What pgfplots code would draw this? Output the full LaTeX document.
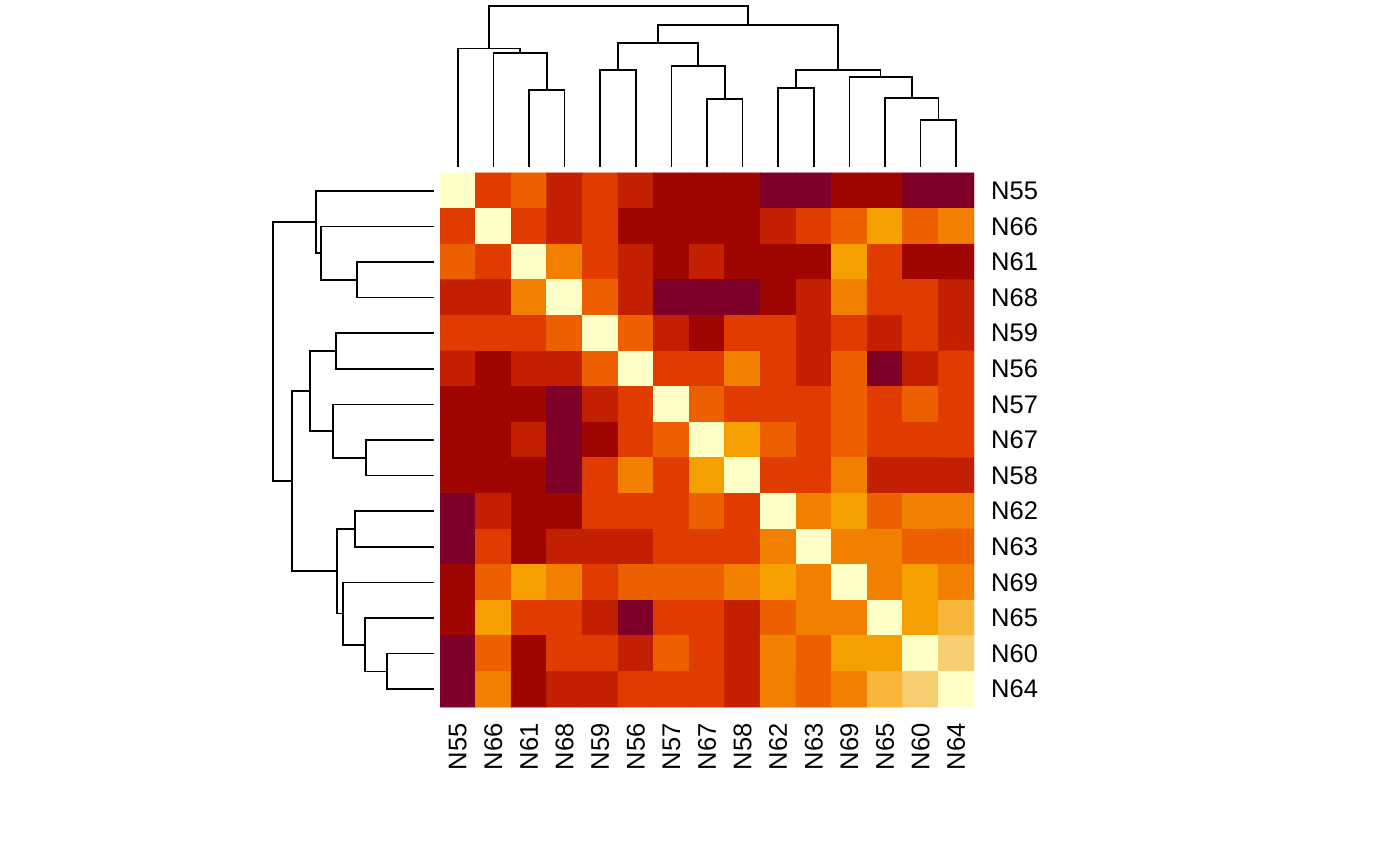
\documentclass[border=0pt]{standalone}
\usepackage{fontspec}
\setmainfont{Liberation Sans}
\usepackage{pgfplots}
\pgfplotsset{compat=1.18}
\tikzset{dend/.style={black, line width=0.85pt, mark=none}}
\begin{document}
\begin{tikzpicture}
\useasboundingbox (0,0) rectangle (700pt,433pt);
% heatmap
\begin{axis}[at={(220pt,79.5pt)}, anchor=south west, scale only axis,
  width=267pt, height=267pt,
  xmin=-0.5, xmax=14.5, ymin=-0.5, ymax=14.5, y dir=reverse, enlargelimits=false,
  axis line style={draw=none}, major tick length=0pt, tick style={draw=none},
  xtick={0,...,14}, ytick={0,...,14},
  xticklabels={N55,N66,N61,N68,N59,N56,N57,N67,N58,N62,N63,N69,N65,N60,N64},
  yticklabels={N55,N66,N61,N68,N59,N56,N57,N67,N58,N62,N63,N69,N65,N60,N64},
  yticklabel pos=right,
  xticklabel style={rotate=90, anchor=east, inner sep=0pt},
  yticklabel style={anchor=west, inner sep=0pt},
  xticklabel shift=8pt, yticklabel shift=8.4pt,
  tick label style={font=\fontsize{12.75}{15}\selectfont},
  colormap={rheat}{rgb255=(126,0,40) rgb255=(160,6,0) rgb255=(194,32,0) rgb255=(224,60,0) rgb255=(236,96,0) rgb255=(242,128,0) rgb255=(245,160,0) rgb255=(247,183,59) rgb255=(246,207,115) rgb255=(255,255,200)},
  colormap access=direct]
\addplot[matrix plot*, mesh/cols=15, point meta=explicit] table[row sep=\\, meta=c] {
x y c\\
0 0 9\\ 1 0 3\\ 2 0 4\\ 3 0 2\\ 4 0 3\\ 5 0 2\\ 6 0 1\\ 7 0 1\\ 8 0 1\\ 9 0 0\\ 10 0 0\\ 11 0 1\\ 12 0 1\\ 13 0 0\\ 14 0 0\\
0 1 3\\ 1 1 9\\ 2 1 3\\ 3 1 2\\ 4 1 3\\ 5 1 1\\ 6 1 1\\ 7 1 1\\ 8 1 1\\ 9 1 2\\ 10 1 3\\ 11 1 4\\ 12 1 6\\ 13 1 4\\ 14 1 5\\
0 2 4\\ 1 2 3\\ 2 2 9\\ 3 2 5\\ 4 2 3\\ 5 2 2\\ 6 2 1\\ 7 2 2\\ 8 2 1\\ 9 2 1\\ 10 2 1\\ 11 2 6\\ 12 2 3\\ 13 2 1\\ 14 2 1\\
0 3 2\\ 1 3 2\\ 2 3 5\\ 3 3 9\\ 4 3 4\\ 5 3 2\\ 6 3 0\\ 7 3 0\\ 8 3 0\\ 9 3 1\\ 10 3 2\\ 11 3 5\\ 12 3 3\\ 13 3 3\\ 14 3 2\\
0 4 3\\ 1 4 3\\ 2 4 3\\ 3 4 4\\ 4 4 9\\ 5 4 4\\ 6 4 2\\ 7 4 1\\ 8 4 3\\ 9 4 3\\ 10 4 2\\ 11 4 3\\ 12 4 2\\ 13 4 3\\ 14 4 2\\
0 5 2\\ 1 5 1\\ 2 5 2\\ 3 5 2\\ 4 5 4\\ 5 5 9\\ 6 5 3\\ 7 5 3\\ 8 5 5\\ 9 5 3\\ 10 5 2\\ 11 5 4\\ 12 5 0\\ 13 5 2\\ 14 5 3\\
0 6 1\\ 1 6 1\\ 2 6 1\\ 3 6 0\\ 4 6 2\\ 5 6 3\\ 6 6 9\\ 7 6 4\\ 8 6 3\\ 9 6 3\\ 10 6 3\\ 11 6 4\\ 12 6 3\\ 13 6 4\\ 14 6 3\\
0 7 1\\ 1 7 1\\ 2 7 2\\ 3 7 0\\ 4 7 1\\ 5 7 3\\ 6 7 4\\ 7 7 9\\ 8 7 6\\ 9 7 4\\ 10 7 3\\ 11 7 4\\ 12 7 3\\ 13 7 3\\ 14 7 3\\
0 8 1\\ 1 8 1\\ 2 8 1\\ 3 8 0\\ 4 8 3\\ 5 8 5\\ 6 8 3\\ 7 8 6\\ 8 8 9\\ 9 8 3\\ 10 8 3\\ 11 8 5\\ 12 8 2\\ 13 8 2\\ 14 8 2\\
0 9 0\\ 1 9 2\\ 2 9 1\\ 3 9 1\\ 4 9 3\\ 5 9 3\\ 6 9 3\\ 7 9 4\\ 8 9 3\\ 9 9 9\\ 10 9 5\\ 11 9 6\\ 12 9 4\\ 13 9 5\\ 14 9 5\\
0 10 0\\ 1 10 3\\ 2 10 1\\ 3 10 2\\ 4 10 2\\ 5 10 2\\ 6 10 3\\ 7 10 3\\ 8 10 3\\ 9 10 5\\ 10 10 9\\ 11 10 5\\ 12 10 5\\ 13 10 4\\ 14 10 4\\
0 11 1\\ 1 11 4\\ 2 11 6\\ 3 11 5\\ 4 11 3\\ 5 11 4\\ 6 11 4\\ 7 11 4\\ 8 11 5\\ 9 11 6\\ 10 11 5\\ 11 11 9\\ 12 11 5\\ 13 11 6\\ 14 11 5\\
0 12 1\\ 1 12 6\\ 2 12 3\\ 3 12 3\\ 4 12 2\\ 5 12 0\\ 6 12 3\\ 7 12 3\\ 8 12 2\\ 9 12 4\\ 10 12 5\\ 11 12 5\\ 12 12 9\\ 13 12 6\\ 14 12 7\\
0 13 0\\ 1 13 4\\ 2 13 1\\ 3 13 3\\ 4 13 3\\ 5 13 2\\ 6 13 4\\ 7 13 3\\ 8 13 2\\ 9 13 5\\ 10 13 4\\ 11 13 6\\ 12 13 6\\ 13 13 9\\ 14 13 8\\
0 14 0\\ 1 14 5\\ 2 14 1\\ 3 14 2\\ 4 14 2\\ 5 14 3\\ 6 14 3\\ 7 14 3\\ 8 14 2\\ 9 14 5\\ 10 14 4\\ 11 14 5\\ 12 14 7\\ 13 14 8\\ 14 14 9\\
};
\end{axis}
% column dendrogram
\begin{axis}[at={(220pt,346.5pt)}, anchor=south west, scale only axis,
  width=267pt, height=86.5pt, xmin=-0.5, xmax=14.5, ymin=0, ymax=173,
  y dir=reverse, hide axis, clip=false]
\addplot[dend] coordinates {(2,167) (2,90) (3,90) (3,167)};
\addplot[dend] coordinates {(1,167) (1,53.3) (2.5,53.3) (2.5,90)};
\addplot[dend] coordinates {(0,167) (0,48.5) (1.75,48.5) (1.75,53.3)};
\addplot[dend] coordinates {(7,167) (7,99) (8,99) (8,167)};
\addplot[dend] coordinates {(6,167) (6,66) (7.5,66) (7.5,99)};
\addplot[dend] coordinates {(4,167) (4,70) (5,70) (5,167)};
\addplot[dend] coordinates {(4.5,70) (4.5,42.7) (6.75,42.7) (6.75,66)};
\addplot[dend] coordinates {(13,167) (13,120) (14,120) (14,167)};
\addplot[dend] coordinates {(12,167) (12,98) (13.5,98) (13.5,120)};
\addplot[dend] coordinates {(11,167) (11,76.7) (12.75,76.7) (12.75,98)};
\addplot[dend] coordinates {(9,167) (9,88) (10,88) (10,167)};
\addplot[dend] coordinates {(9.5,88) (9.5,70) (11.875,70) (11.875,76.7)};
\addplot[dend] coordinates {(5.625,42.7) (5.625,24.7) (10.6875,24.7) (10.6875,70)};
\addplot[dend] coordinates {(0.875,48.5) (0.875,6) (8.156,6) (8.156,24.7)};
\end{axis}
% row dendrogram
\begin{axis}[at={(0pt,79.5pt)}, anchor=south west, scale only axis,
  width=220pt, height=267pt, xmin=0, xmax=440, ymin=-0.5, ymax=14.5,
  y dir=reverse, hide axis, clip=false]
\addplot[dend] coordinates {(434,2) (357,2) (357,3) (434,3)};
\addplot[dend] coordinates {(434,1) (320.7,1) (320.7,2.5) (357,2.5)};
\addplot[dend] coordinates {(434,0) (315.7,0) (315.7,1.75) (320.7,1.75)};
\addplot[dend] coordinates {(434,4) (336.3,4) (336.3,5) (434,5)};
\addplot[dend] coordinates {(434,7) (366,7) (366,8) (434,8)};
\addplot[dend] coordinates {(434,6) (333.3,6) (333.3,7.5) (366,7.5)};
\addplot[dend] coordinates {(336.3,4.5) (309.7,4.5) (309.7,6.75) (333.3,6.75)};
\addplot[dend] coordinates {(434,9) (355,9) (355,10) (434,10)};
\addplot[dend] coordinates {(434,13) (387.3,13) (387.3,14) (434,14)};
\addplot[dend] coordinates {(434,12) (365,12) (365,13.5) (387.3,13.5)};
\addplot[dend] coordinates {(434,11) (343.3,11) (343.3,12.75) (365,12.75)};
\addplot[dend] coordinates {(355,9.5) (337,9.5) (337,11.875) (343.3,11.875)};
\addplot[dend] coordinates {(309.7,5.625) (291.7,5.625) (291.7,10.6875) (337,10.6875)};
\addplot[dend] coordinates {(315.7,0.875) (273.3,0.875) (273.3,8.156) (291.7,8.156)};
\end{axis}
\end{tikzpicture}
\end{document}
